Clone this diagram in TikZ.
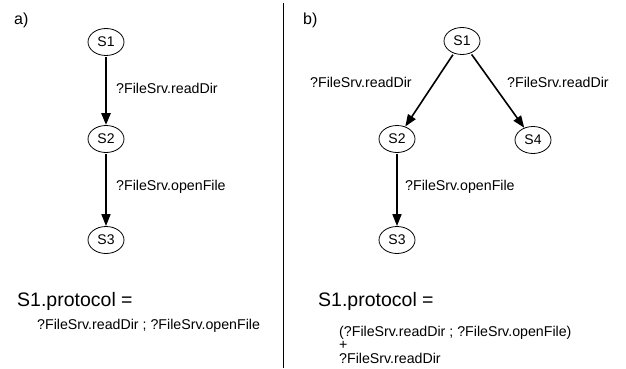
\documentclass[tikz,border=0pt]{standalone}
\usepackage{fontspec}
\setmainfont{Liberation Sans}
\usetikzlibrary{arrows.meta,shapes.geometric}
\tikzset{
  state/.style={draw, ellipse, line width=0.8pt, minimum width=36pt, minimum height=27pt, inner sep=0pt, font=\fontsize{14}{16}\selectfont},
  lbl/.style={anchor=base west, inner sep=0pt, font=\fontsize{14.2}{16}\selectfont},
  big/.style={anchor=base west, inner sep=0pt, font=\fontsize{19.5}{21}\selectfont},
  tag/.style={anchor=base west, inner sep=0pt, font=\fontsize{16}{18}\selectfont},
  edge/.style={line width=1.6pt, -{Triangle[length=12pt,width=9pt]}, shorten <=1.5pt},
  thickedge/.style={edge, line width=2.6pt}
}
\begin{document}
\begin{tikzpicture}[x=1pt,y=-1pt]
\useasboundingbox (0,0) rectangle (626,369);
% divider
\coordinate (d1) at (283.5,3);
\coordinate (d2) at (283.5,368);
\draw[line width=0.9pt] (d1) -- (d2);
% panel a
\node[tag] (ta) at (14,25) {a)};
\node[state] (a1) at (106,42) {S1};
\node[state] (a2) at (106,139) {S2};
\node[state] (a3) at (106,240) {S3};
\draw[thickedge] (a1) -- (a2);
\draw[edge] (a2) -- (a3);
\node[lbl] (la1) at (116,93) {?FileSrv.readDir};
\node[lbl] (la2) at (116,190) {?FileSrv.openFile};
\node[big] (pa) at (17,306) {S1.protocol =};
\node[lbl] (pa1) at (37,329) {?FileSrv.readDir ; ?FileSrv.openFile};
% panel b
\node[tag] (tb) at (303,25) {b)};
\node[state] (b1) at (462,41) {S1};
\node[state] (b2) at (397,139) {S2};
\node[state] (b4) at (533,140) {S4};
\node[state] (b3) at (397,240) {S3};
\draw[edge] (b1) -- (b2);
\draw[edge] (b1) -- (b4);
\draw[edge] (b2) -- (b3);
\node[lbl] (lb1) at (310,88) {?FileSrv.readDir};
\node[lbl] (lb2) at (507,88) {?FileSrv.readDir};
\node[lbl] (lb3) at (405,190) {?FileSrv.openFile};
\node[big] (pb) at (318,306) {S1.protocol =};
\node[lbl, align=left, font=\fontsize{14.2}{13.5}\selectfont] (pb1) at (339,363) {(?FileSrv.readDir ; ?FileSrv.openFile)\\+\\?FileSrv.readDir};
\end{tikzpicture}
\end{document}
